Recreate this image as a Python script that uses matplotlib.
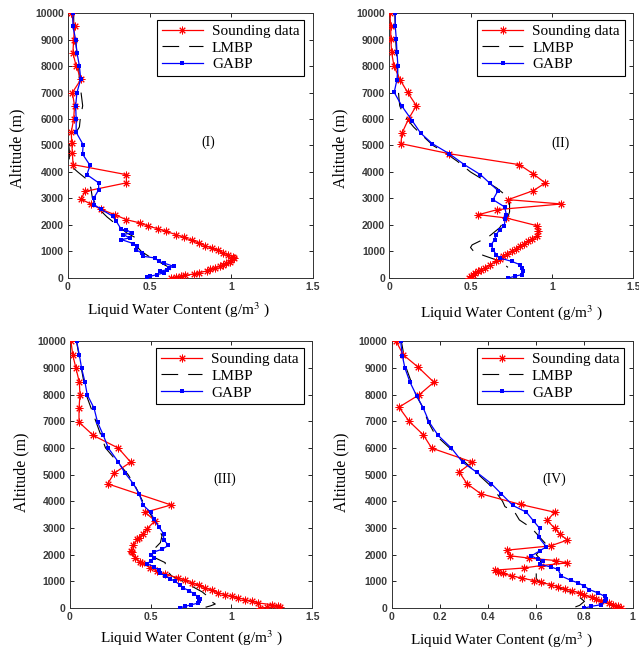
import matplotlib
matplotlib.use("Agg")
import matplotlib.pyplot as plt

plt.rcParams['mathtext.fontset'] = 'stix'

# ---- panel I : (lwc g/m3, altitude m) ----
snd_1 = [(0.02, 10000), (0.04, 9500), (0.035, 9000), (0.03, 8500), (0.05, 8000),
         (0.08, 7500), (0.027, 7000), (0.04, 6500), (0.035, 6000), (0.02, 5500),
         (0.023, 5100), (0.027, 4700), (0.031, 4280), (0.358, 3900), (0.358, 3590),
         (0.106, 3270), (0.079, 2980), (0.14, 2790), (0.20, 2600), (0.286, 2390),
         (0.358, 2200), (0.44, 2080), (0.49, 1960), (0.55, 1860), (0.60, 1760),
         (0.66, 1640), (0.71, 1530), (0.76, 1420), (0.80, 1320), (0.84, 1220),
         (0.88, 1130), (0.92, 1040), (0.95, 950), (0.98, 870), (1.01, 800),
         (1.02, 740), (1.00, 680), (0.99, 620), (0.97, 560), (0.95, 500),
         (0.93, 440), (0.90, 380), (0.87, 320), (0.85, 260), (0.80, 200),
         (0.77, 150), (0.72, 100), (0.69, 60), (0.66, 25), (0.63, 0)]
lm_1 = [(0.035, 10000), (0.035, 9500), (0.045, 9000), (0.055, 8500), (0.065, 8000),
        (0.07, 7500), (0.08, 7000), (0.09, 6500), (0.075, 6000), (0.07, 5700),
        (0.04, 5400), (0.005, 5000), (0.01, 4700), (0.005, 4300), (0.06, 4000),
        (0.12, 3700), (0.14, 3400), (0.15, 3000), (0.19, 2600), (0.24, 2300),
        (0.30, 2000), (0.36, 1700), (0.42, 1500), (0.42, 1200), (0.45, 1000),
        (0.50, 800), (0.56, 600), (0.62, 400), (0.63, 300)]
ga_1 = [(0.03, 10000), (0.03, 9500), (0.047, 9000), (0.055, 8500), (0.07, 8000),
        (0.078, 7500), (0.055, 7000), (0.047, 6500), (0.05, 6000), (0.05, 5500),
        (0.093, 5030), (0.089, 4680), (0.135, 4250), (0.116, 3900), (0.188, 3590),
        (0.188, 3330), (0.157, 3000), (0.16, 2770), (0.20, 2600), (0.275, 2330),
        (0.296, 2140), (0.327, 1830), (0.358, 1820), (0.39, 1700), (0.337, 1640),
        (0.379, 1510), (0.327, 1450), (0.40, 1300), (0.42, 1195), (0.416, 1070),
        (0.451, 944), (0.46, 818), (0.534, 755), (0.555, 629), (0.586, 566),
        (0.648, 440), (0.62, 380), (0.607, 315), (0.565, 250), (0.586, 190),
        (0.545, 125), (0.503, 63), (0.482, 40)]

# ---- panel II ----
snd_2 = [(0.004, 10000), (0.01, 9500), (0.01, 9020), (0.015, 8520), (0.03, 7990),
         (0.067, 7485), (0.113, 7007), (0.167, 6504), (0.119, 6000), (0.079, 5470),
         (0.072, 5070), (0.369, 4690), (0.80, 4277), (0.886, 3925), (0.959, 3585),
         (0.886, 3296), (0.731, 2956), (1.058, 2793), (0.665, 2579), (0.549, 2390),
         (0.72, 2264), (0.907, 1975), (0.917, 1761), (0.907, 1572), (0.88, 1480),
         (0.855, 1384), (0.83, 1290), (0.803, 1195), (0.78, 1100), (0.752, 1006),
         (0.725, 910), (0.70, 818), (0.68, 720), (0.658, 629), (0.62, 500),
         (0.586, 377), (0.565, 310), (0.545, 252), (0.53, 190), (0.513, 126),
         (0.50, 60), (0.493, 0)]
lm_2 = [(0.035, 10000), (0.04, 9000), (0.05, 8000), (0.055, 7500), (0.055, 7200),
        (0.06, 6800), (0.065, 6500), (0.085, 6200), (0.11, 6000), (0.15, 5700),
        (0.20, 5400), (0.27, 5000), (0.35, 4700), (0.42, 4400), (0.50, 4000),
        (0.58, 3700), (0.66, 3400), (0.72, 3100), (0.74, 2800), (0.74, 2500),
        (0.73, 2300), (0.70, 2100), (0.68, 1900), (0.62, 1600), (0.56, 1400),
        (0.51, 1250), (0.50, 1150), (0.52, 1000), (0.58, 850), (0.65, 700),
        (0.70, 550), (0.73, 400)]
ga_2 = [(0.0375, 10000), (0.0375, 9500), (0.044, 9020), (0.048, 8520), (0.054, 7990),
        (0.048, 7485), (0.031, 7007), (0.079, 6480), (0.141, 5940), (0.193, 5470),
        (0.265, 5070), (0.369, 4690), (0.462, 4277), (0.561, 3900), (0.617, 3585),
        (0.669, 3296), (0.638, 2956), (0.71, 2680), (0.72, 2390), (0.714, 2227),
        (0.706, 1950), (0.679, 1824), (0.658, 1635), (0.648, 1447), (0.627, 1258),
        (0.638, 1069), (0.658, 880), (0.679, 755), (0.752, 629), (0.803, 503),
        (0.814, 377), (0.824, 252), (0.814, 126), (0.772, 63), (0.731, 0)]

# ---- panel III ----
snd_3 = [(0.006, 10000), (0.017, 9485), (0.037, 8986), (0.058, 8460), (0.062, 7990),
         (0.056, 7490), (0.056, 6960), (0.145, 6465), (0.30, 5990), (0.376, 5466),
         (0.275, 5057), (0.233, 4655), (0.626, 3862), (0.465, 3585), (0.527, 3270),
         (0.475, 2956), (0.45, 2783), (0.428, 2642), (0.417, 2571), (0.388, 2346),
         (0.378, 2139), (0.382, 2097), (0.403, 1887), (0.434, 1722), (0.444, 1698),
         (0.496, 1510), (0.54, 1380), (0.589, 1258), (0.671, 1132), (0.71, 1040),
         (0.754, 943), (0.80, 850), (0.837, 755), (0.88, 660), (0.919, 566),
         (0.96, 500), (1.002, 440), (1.04, 380), (1.085, 314), (1.13, 250),
         (1.167, 189), (1.25, 126), (1.29, 80), (1.30, 40), (1.22, 25), (1.18, 0)]
lm_3 = [(0.04, 10000), (0.07, 9000), (0.10, 8000), (0.16, 7000), (0.22, 6000),
        (0.29, 5500), (0.36, 5000), (0.41, 4500), (0.45, 4000), (0.50, 3500),
        (0.55, 3000), (0.57, 2700), (0.56, 2450), (0.52, 2200), (0.50, 2050),
        (0.52, 1900), (0.59, 1700), (0.59, 1550), (0.60, 1400), (0.63, 1200),
        (0.70, 1000), (0.76, 800), (0.82, 600), (0.84, 500), (0.86, 300),
        (0.90, 150), (0.87, 80), (0.84, 30)]
ga_3 = [(0.041, 10000), (0.058, 9485), (0.072, 8986), (0.093, 8460), (0.107, 7990),
        (0.149, 7490), (0.171, 6960), (0.207, 6465), (0.238, 5990), (0.30, 5466),
        (0.341, 5057), (0.393, 4655), (0.428, 4277), (0.455, 3844), (0.50, 3585),
        (0.52, 3330), (0.55, 3050), (0.58, 2780), (0.58, 2560), (0.61, 2350),
        (0.57, 2200), (0.52, 2100), (0.50, 1980), (0.52, 1880), (0.50, 1780),
        (0.48, 1650), (0.52, 1550), (0.55, 1420), (0.56, 1300), (0.59, 1200),
        (0.62, 1100), (0.65, 1000), (0.68, 880), (0.70, 760), (0.74, 640),
        (0.77, 530), (0.79, 430), (0.805, 330), (0.80, 250), (0.79, 180),
        (0.75, 120), (0.71, 60), (0.68, 0)]

# ---- panel IV ----
snd_4 = [(0.018, 10000), (0.048, 9485), (0.11, 9023), (0.175, 8460), (0.114, 7990),
         (0.03, 7525), (0.073, 6990), (0.131, 6490), (0.166, 5990), (0.335, 5466),
         (0.28, 5092), (0.313, 4655), (0.37, 4280), (0.535, 3880), (0.676, 3590),
         (0.646, 3280), (0.676, 2990), (0.697, 2780), (0.729, 2545), (0.66, 2330),
         (0.48, 2170), (0.49, 1960), (0.57, 1870), (0.68, 1780), (0.727, 1690),
         (0.62, 1590), (0.548, 1500), (0.43, 1420), (0.44, 1350), (0.46, 1300),
         (0.50, 1200), (0.54, 1120), (0.59, 1030), (0.62, 960), (0.66, 880),
         (0.69, 800), (0.72, 720), (0.75, 640), (0.78, 560), (0.80, 480),
         (0.83, 400), (0.85, 320), (0.87, 250), (0.90, 180), (0.92, 120),
         (0.94, 60), (0.95, 20), (0.93, 0)]
lm_4 = [(0.04, 10000), (0.05, 9500), (0.06, 9000), (0.08, 8500), (0.10, 8000),
        (0.13, 7500), (0.15, 7000), (0.18, 6500), (0.24, 6000), (0.30, 5500),
        (0.36, 5000), (0.42, 4500), (0.46, 4000), (0.47, 3800), (0.51, 3600),
        (0.53, 3300), (0.58, 3000), (0.61, 2700), (0.64, 2400), (0.62, 2200),
        (0.60, 2000), (0.62, 1800), (0.61, 1500), (0.60, 1300), (0.60, 1100),
        (0.61, 1000), (0.68, 800), (0.74, 600), (0.78, 400), (0.80, 250),
        (0.78, 100), (0.75, 0)]
ga_4 = [(0.037, 10000), (0.044, 9460), (0.055, 8986), (0.076, 8460), (0.103, 7960),
        (0.131, 7490), (0.156, 6960), (0.193, 6465), (0.248, 5990), (0.294, 5466),
        (0.352, 5092), (0.414, 4655), (0.455, 4280), (0.503, 3843), (0.559, 3590),
        (0.59, 3250), (0.614, 2986), (0.61, 2646), (0.642, 2293), (0.614, 2142),
        (0.58, 1953), (0.607, 1827), (0.63, 1750), (0.614, 1638), (0.66, 1540),
        (0.69, 1449), (0.704, 1197), (0.745, 1033), (0.773, 945), (0.80, 819),
        (0.82, 693), (0.856, 567), (0.884, 441), (0.89, 350), (0.884, 252),
        (0.87, 126), (0.828, 63), (0.80, 0)]

panels = [
    ('(I)', snd_1, lm_1, ga_1, 1.5, [0, 0.5, 1, 1.5], ['0', '0.5', '1', '1.5'], (0.86, 5130)),
    ('(II)', snd_2, lm_2, ga_2, 1.5, [0, 0.5, 1, 1.5], ['0', '0.5', '1', '1.5'], (1.05, 5070)),
    ('(III)', snd_3, lm_3, ga_3, 1.5, [0, 0.5, 1, 1.5], ['0', '0.5', '1', '1.5'], (0.96, 4820)),
    ('(IV)', snd_4, lm_4, ga_4, 1.0, [0, 0.2, 0.4, 0.6, 0.8, 1.0],
     ['0', '0.2', '0.4', '0.6', '0.8', '1'], (0.676, 4840)),
]

positions = [
    [0.1064, 0.573, 0.383, 0.407],
    [0.609, 0.573, 0.382, 0.407],
    [0.1095, 0.066, 0.379, 0.410],
    [0.613, 0.066, 0.377, 0.410],
]
xlabel_pos = [(0.45, -0.12), (0.50, -0.13), (0.50, -0.11), (0.456, -0.117)]
ylabel_pos = [(-0.205, 0.49), (-0.20, 0.49), (-0.20, 0.51), (-0.21, 0.51)]

serif = 'Liberation Serif'
sans = 'Liberation Sans'

fig = plt.figure(figsize=(6.39, 6.51), dpi=100)

for i, (tag, snd, lm, ga, xmax, xt, xtl, tagpos) in enumerate(panels):
    ax = fig.add_axes(positions[i])
    ax.plot([p[0] for p in snd], [p[1] for p in snd], color='red', lw=0.9,
            marker=(8, 2, 0), ms=5.5, mew=0.7, label='Sounding data', zorder=3)
    ax.plot([p[0] for p in lm], [p[1] for p in lm], color='black', lw=0.8,
            dashes=(15, 9), label='LMBP', zorder=2)
    ax.plot([p[0] for p in ga], [p[1] for p in ga], color='blue', lw=0.9,
            marker='s', ms=3.4, mew=0, label='GABP', zorder=4)

    ax.set_xlim(0, xmax)
    ax.set_ylim(0, 10000)
    ax.set_xticks(xt)
    ax.set_xticklabels(xtl, fontfamily=sans, fontsize=7.5, fontweight='bold',
                       color='#3a3a3a')
    ax.set_yticks(range(0, 10001, 1000))
    ax.set_yticklabels([str(v) for v in range(0, 10001, 1000)],
                       fontfamily=sans, fontsize=7.5, fontweight='bold', color='#3a3a3a')
    ax.tick_params(direction='in', top=True, right=True, length=3, width=0.6, pad=3)
    for s in ax.spines.values():
        s.set_linewidth(0.7)
        s.set_color('#333333')

    ax.set_xlabel('Liquid Water Content (g/m$^{3}$ )', fontfamily=serif, fontsize=11)
    ax.xaxis.set_label_coords(*xlabel_pos[i])
    ax.xaxis.label.set_va('center')
    ax.set_ylabel('Altitude (m)', fontfamily=serif, fontsize=11.5)
    ax.yaxis.set_label_coords(*ylabel_pos[i])
    ax.yaxis.label.set_va('center')

    ax.text(tagpos[0], tagpos[1], tag, fontfamily=serif, fontsize=10,
            ha='center', va='center')

    leg = ax.legend(loc='upper right', bbox_to_anchor=(0.965, 0.975), borderaxespad=0,
                    prop={'family': serif, 'size': 11}, fancybox=False,
                    framealpha=1, edgecolor='black', handlelength=2.7,
                    labelspacing=0.2, borderpad=0.3, handletextpad=0.6)
    leg.get_frame().set_linewidth(0.8)

fig.savefig('out.png', dpi=100)
